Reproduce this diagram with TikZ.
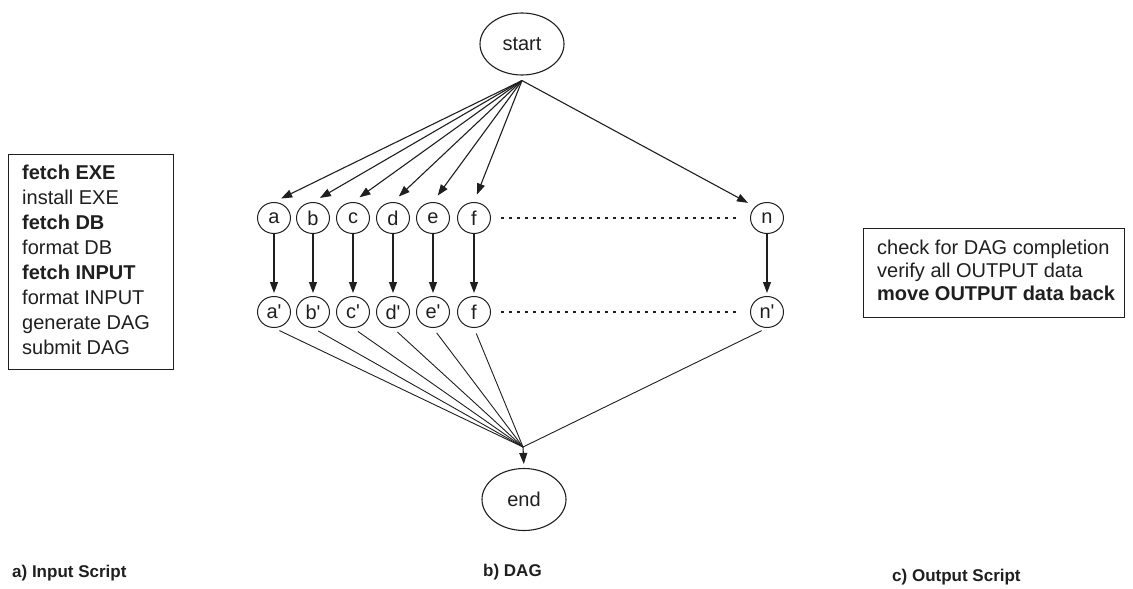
\documentclass[tikz,border=0pt]{standalone}
\usepackage{fontspec}
\newfontfamily\lsans{Liberation Sans}
\usetikzlibrary{arrows.meta,shapes.geometric,calc}
\definecolor{ink}{gray}{0.12}
\begin{document}
\begin{tikzpicture}[x=1pt,y=-1pt,
  every node/.style={font=\lsans\fontsize{20}{24}\selectfont, text=ink},
  ov/.style={draw=ink, ellipse, line width=1.1pt, minimum width=84pt, minimum height=62pt, inner sep=0pt},
  job/.style={draw=ink, ellipse, line width=1pt, minimum width=33pt, minimum height=31pt, inner sep=0pt},
  arr/.style={draw=ink, line width=1.1pt, -{Triangle[length=11pt,width=8pt]}},
  fanline/.style={draw=ink, line width=0.9pt},
  dotrow/.style={draw=ink, line width=2.8pt, dash pattern=on 2.8pt off 5.2pt},
  scriptbox/.style={draw=ink, line width=1pt, inner sep=0pt},
  scripttext/.style={anchor=west, align=left, inner sep=0pt},
  captext/.style={anchor=west, inner sep=0pt, font=\lsans\bfseries\fontsize{17}{20}\selectfont}
]
\useasboundingbox (0,0) rectangle (1133,589);

% start / end
\node[ov] (start) at (522,44) {start};
\node[ov] (end) at (524,499.5) {end};
\coordinate (s0) at ($(start.south)+(0,5)$);
\coordinate (conv) at (523,447);

% job nodes
\foreach \n/\x/\lab in {a/274/a',b/313/b',c/353/c',d/393/d',e/433/e',f/474/f,n/767/n'}{
  \node[job] (\n) at (\x,218) {\n};
  \node[job] (\n2) at (\x,312) {\lab};
}

% start -> first row
\foreach \n in {a,b,c,d,e,f}{
  \draw[arr, shorten >=8pt] (s0) -- (\n.north);
}
\draw[arr, shorten >=8pt] (s0) -- (n.north west);

% first row -> second row
\foreach \n in {a,b,c,d,e,f,n}{
  \draw[arr, shorten >=3pt] (\n.south) -- (\n2.north);
}

% second row -> end
\foreach \n in {a,b,c,d,e,f,n}{
  \draw[fanline, shorten <=6pt] (\n2.south) -- (conv);
}
\draw[arr, shorten >=4pt] (conv) -- (end.north);

% dotted continuation
\draw[dotrow, shorten <=10pt, shorten >=14pt] (f.east) -- (n.west);
\draw[dotrow, shorten <=10pt, shorten >=14pt] (f2.east) -- (n2.west);

% input script box
\node[scriptbox, minimum width=165pt, minimum height=215pt] (inbox) at (90.5,261.5) {};
\node[scripttext, font=\lsans\fontsize{20}{25}\selectfont] (intext) at (22,260)
  {\textbf{fetch EXE}\\install EXE\\\textbf{fetch DB}\\format DB\\\textbf{fetch INPUT}\\format INPUT\\generate DAG\\submit DAG};

% output script box
\node[scriptbox, minimum width=261pt, minimum height=89pt] (outbox) at (993.5,272.5) {};
\node[scripttext, font=\lsans\fontsize{20}{23}\selectfont] (outtext) at (877,270)
  {check for DAG completion\\verify all OUTPUT data\\\textbf{move OUTPUT data back}};

% captions
\node[captext] (capa) at (12,573) {a) Input Script};
\node[captext] (capb) at (483,572) {b) DAG};
\node[captext] (capc) at (892,577) {c) Output Script};
\end{tikzpicture}
\end{document}
